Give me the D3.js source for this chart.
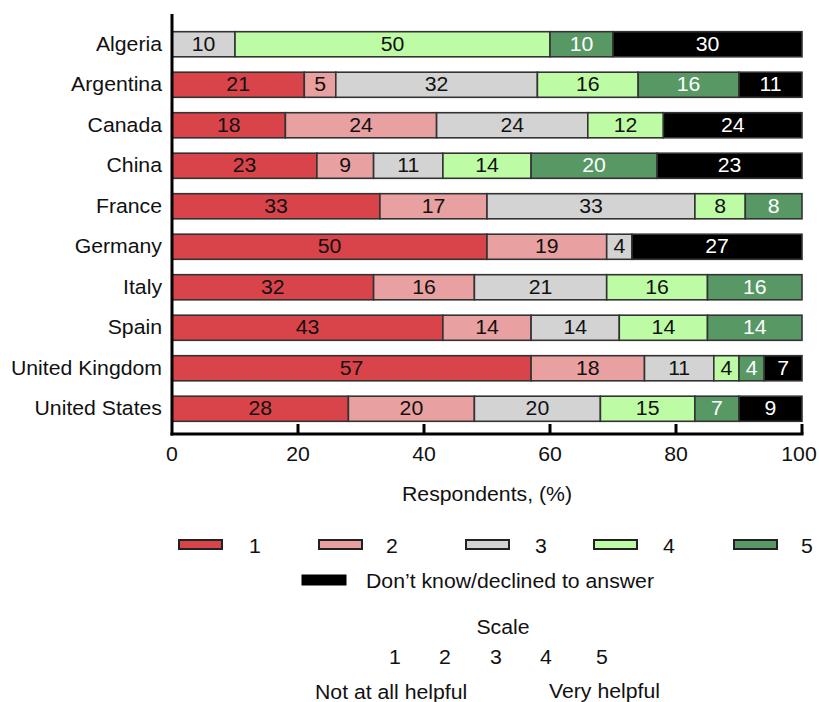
<!DOCTYPE html>
<html><head><meta charset="utf-8">
<script src="https://cdn.jsdelivr.net/npm/d3@7"></script>
<style>body{margin:0;background:#fff}text{font-family:"Liberation Sans",Arial,sans-serif}</style>
</head><body><svg id="c" width="819" height="702"></svg>
<script>
const countries = ["Algeria","Argentina","Canada","China","France","Germany","Italy","Spain","United Kingdom","United States"];
const seriesKeys = ["1","2","3","4","5","Don\u2019t know/declined to answer"];
const s1 = [0,21,18,23,33,50,32,43,57,28];
const s2 = [0,5,24,9,17,19,16,14,18,20];
const s3 = [10,32,24,11,33,4,21,14,11,20];
const s4 = [50,16,12,14,8,0,16,14,4,15];
const s5 = [10,16,0,20,8,0,16,14,4,7];
const s6 = [30,11,24,23,0,27,0,0,7,9];
const colors = ["#d9434a","#e8a0a0","#d3d3d3","#bdfca5","#589865","#000000"];
const textColors = ["#111","#111","#111","#111","#fff","#fff"];
const xTicks = [0,20,40,60,80,100];
const scaleNums = ["1","2","3","4","5"];

const series = [s1,s2,s3,s4,s5,s6];
const svg = d3.select("#c");
const x = d3.scaleLinear().domain([0,100]).range([172,802]);
const y = d3.scaleBand().domain(countries).range([24,429]).paddingInner(0.38).paddingOuter(0.19);
const SX = 1.09, FS = 19.5;

function txt(parent, px, py, str, anchor, fill){
  const gg = parent.append("g").attr("transform",`translate(${px},${py}) scale(${SX},1)`);
  gg.append("text").attr("x",0).attr("y",0).attr("text-anchor",anchor||"start")
    .attr("dominant-baseline","central").attr("font-size",FS).attr("fill",fill||"#111").text(str);
  return gg;
}

// build segments
const segs = [];
countries.forEach((c,i)=>{
  let cum = 0;
  let lastIdx = -1;
  series.forEach((s,k)=>{ if(s[i]>0) lastIdx=k; });
  series.forEach((s,k)=>{
    const v = s[i];
    if(v<=0) return;
    const a = Math.min(cum,100);
    const b = (k===lastIdx) ? 100 : Math.min(cum+v,100);
    segs.push({c, k, v, a, b});
    cum += v;
  });
});

const g = svg.append("g");
g.selectAll("rect.seg").data(segs).join("rect")
  .attr("class","seg")
  .attr("x",d=>x(d.a)).attr("width",d=>x(d.b)-x(d.a))
  .attr("y",d=>y(d.c)).attr("height",y.bandwidth())
  .attr("fill",d=>colors[d.k]).attr("stroke","#333").attr("stroke-width",1.6);

segs.forEach(d=>txt(g,(x(d.a)+x(d.b))/2,y(d.c)+y.bandwidth()/2,d.v,"middle",textColors[d.k]));

// country labels
countries.forEach(c=>txt(svg,162,y(c)+y.bandwidth()/2,c,"end"));

// axes
const axisY = 434;
svg.append("line").attr("x1",x(0)).attr("x2",x(0)).attr("y1",14).attr("y2",axisY+1.5)
  .attr("stroke","#000").attr("stroke-width",3);
svg.append("line").attr("x1",x(0)-1.5).attr("x2",x(100)+1.5).attr("y1",axisY).attr("y2",axisY)
  .attr("stroke","#000").attr("stroke-width",3);
svg.selectAll("line.tick").data(xTicks.filter(t=>t>0)).join("line")
  .attr("class","tick")
  .attr("x1",d=>x(d)).attr("x2",d=>x(d)).attr("y1",axisY-10).attr("y2",axisY)
  .attr("stroke","#000").attr("stroke-width",3);
xTicks.forEach(t=>txt(svg,x(t)-(t===100?3:0),454,t,"middle"));
txt(svg,487,494,"Respondents, (%)","middle");

// legend row 1
const legSw = [179,319,466,594,734];
const legTx = [255,392,541,669,807];
for(let k=0;k<5;k++){
  svg.append("rect").attr("x",legSw[k]).attr("y",540).attr("width",43).attr("height",9)
    .attr("fill",colors[k]).attr("stroke","#222").attr("stroke-width",2);
  txt(svg,legTx[k],546,seriesKeys[k],"middle");
}
svg.append("rect").attr("x",302).attr("y",575).attr("width",44).attr("height",10)
  .attr("fill","#000").attr("stroke","#000").attr("stroke-width",1);
txt(svg,366,581,seriesKeys[5],"start");

// scale block
txt(svg,503,627,"Scale","middle");
const scX = [395,445,496,546,602];
scaleNums.forEach((n,i)=>txt(svg,scX[i],657,n,"middle"));
txt(svg,315,692,"Not at all helpful","start");
txt(svg,549,691,"Very helpful","start");
</script></body></html>
